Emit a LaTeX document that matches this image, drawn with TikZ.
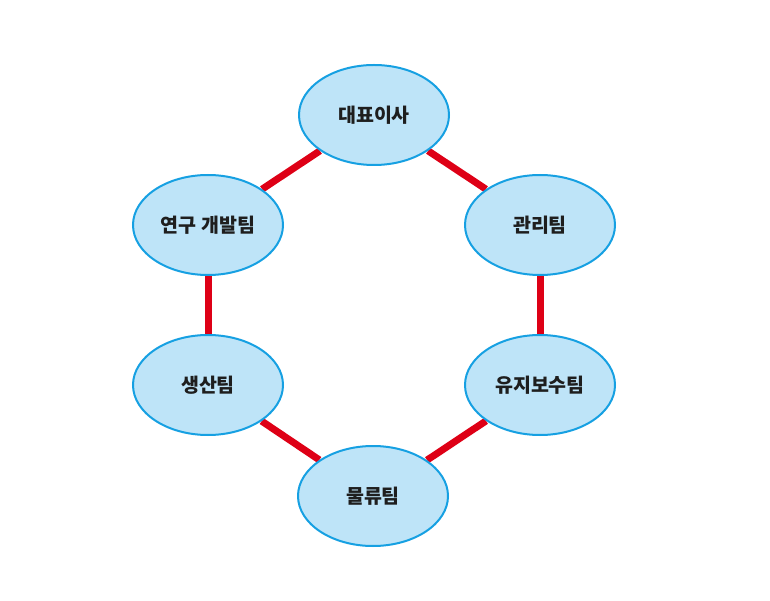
\documentclass[tikz,border=0pt]{standalone}
\usepackage{fontspec}
\usepackage{xcolor}
\setmainfont{Noto Sans CJK KR}
\usetikzlibrary{shapes.geometric}
\usetikzlibrary{backgrounds}
\definecolor{teamfill}{RGB}{190,228,248}
\definecolor{teamline}{RGB}{22,160,226}
\definecolor{linkred}{RGB}{222,0,22}
\definecolor{teamtext}{RGB}{30,30,30}

\begin{document}
\begin{tikzpicture}[x=1pt,y=1pt,
	team/.style={ellipse,fill=teamfill,draw=teamline,line width=2pt,minimum width=150pt,minimum height=100pt,inner sep=0pt,text=teamtext,font=\fontsize{19.5}{23}\selectfont\bfseries},
	link/.style={linkred,line width=7pt}]
					\useasboundingbox(0,0)rectangle(770,600);
					\node[team] (ceo) at (374,485){대표이사};
					\node[team] (rnd) at (208,375){연구 개발팀};
					\node[team] (mgmt) at (540,375){관리팀};
					\node[team] (prod) at (208,215){생산팀};
					\node[team] (maint) at (540,215){유지보수팀};
					\node[team] (logi) at (373,104){물류팀};

					\begin{scope}[on background layer]
					\draw[link](ceo)--(rnd);
					\draw[link](ceo)--(mgmt);
					\draw[link](rnd)--(prod);
					\draw[link](mgmt)--(maint);
					\draw[link](prod)--(logi);
					\draw[link](maint)--(logi);
					\end{scope}
				\end{tikzpicture}
\end{document}
